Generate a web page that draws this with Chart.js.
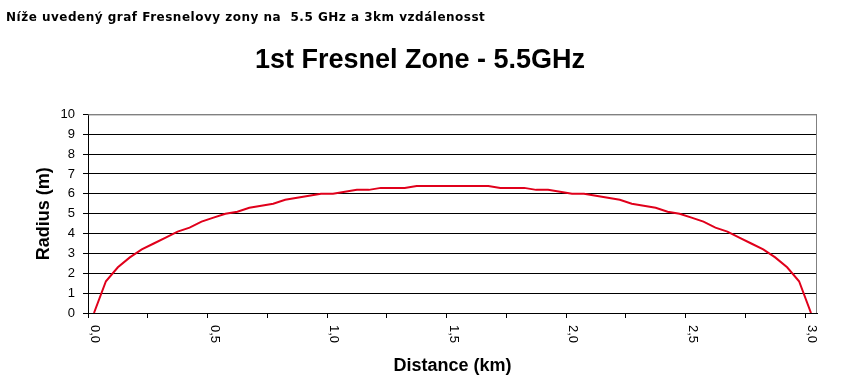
<!DOCTYPE html>
<html>
<head>
<meta charset="utf-8">
<title>1st Fresnel Zone - 5.5GHz</title>
<script src="https://cdn.jsdelivr.net/npm/chart.js@4/dist/chart.umd.min.js"></script>
<style>
  html, body { margin: 0; padding: 0; background: #fff; }
  #wrap { position: relative; width: 844px; height: 392px; overflow: hidden; }
  #note {
    position: absolute; left: 6px; top: 10px;
    font: bold 12px Verdana, "DejaVu Sans", sans-serif;
    letter-spacing: 0.5px;
    line-height: 14px; color: #000; white-space: pre;
  }
  #chart { position: absolute; left: 0; top: 0; }
</style>
</head>
<body>
<div id="wrap">
  <canvas id="chart" width="844" height="392"></canvas>
  <div id="note">Níže uvedený graf Fresnelovy zony na  5.5 GHz a 3km vzdálenosst</div>
</div>
<script>
/* ── data ── */

// distance along the path (km), one category every 50 m
const distances = [
  0.00, 0.05, 0.10, 0.15, 0.20, 0.25, 0.30, 0.35, 0.40, 0.45,
  0.50, 0.55, 0.60, 0.65, 0.70, 0.75, 0.80, 0.85, 0.90, 0.95,
  1.00, 1.05, 1.10, 1.15, 1.20, 1.25, 1.30, 1.35, 1.40, 1.45,
  1.50, 1.55, 1.60, 1.65, 1.70, 1.75, 1.80, 1.85, 1.90, 1.95,
  2.00, 2.05, 2.10, 2.15, 2.20, 2.25, 2.30, 2.35, 2.40, 2.45,
  2.50, 2.55, 2.60, 2.65, 2.70, 2.75, 2.80, 2.85, 2.90, 2.95,
  3.00
];

// radius of the 1st Fresnel zone (m)
const radius = [
  0.0, 1.6, 2.3, 2.8, 3.2, 3.5, 3.8, 4.1, 4.3, 4.6,
  4.8, 5.0, 5.1, 5.3, 5.4, 5.5, 5.7, 5.8, 5.9, 6.0,
  6.0, 6.1, 6.2, 6.2, 6.3, 6.3, 6.3, 6.4, 6.4, 6.4,
  6.4, 6.4, 6.4, 6.4, 6.3, 6.3, 6.3, 6.2, 6.2, 6.1,
  6.0, 6.0, 5.9, 5.8, 5.7, 5.5, 5.4, 5.3, 5.1, 5.0,
  4.8, 4.6, 4.3, 4.1, 3.8, 3.5, 3.2, 2.8, 2.3, 1.6,
  0.0
];

// labelled ticks on the distance axis
const xTickValues = [0.0, 0.5, 1.0, 1.5, 2.0, 2.5, 3.0];
const xTickLabels = ['0,0', '0,5', '1,0', '1,5', '2,0', '2,5', '3,0'];

// radius axis
const yMin = 0;
const yMax = 10;
const yStep = 1;

/* ── look ── */
const FONT = 'Arial, "Liberation Sans", sans-serif';
const LINE_RED = '#e0001b';

// x labels in the reference read top-to-bottom, so draw them ourselves
const xLabelsPlugin = {
  id: 'xLabels',
  afterDraw(chart) {
    const xs = chart.scales.x;
    const ctx = chart.ctx;
    ctx.save();
    ctx.fillStyle = '#000';
    ctx.font = '13px ' + FONT;
    ctx.textAlign = 'left';
    ctx.textBaseline = 'middle';
    xTickValues.forEach((v, i) => {
      const idx = distances.findIndex(d => Math.abs(d - v) < 1e-9);
      if (idx < 0) return;
      const px = xs.getPixelForValue(idx);
      ctx.save();
      ctx.translate(px + 1, xs.top + 12);
      ctx.rotate(Math.PI / 2);
      ctx.fillText(xTickLabels[i], 0, 0);
      ctx.restore();
    });
    ctx.restore();
  }
};

// grey frame on the top/right of the plot area
const framePlugin = {
  id: 'frame',
  beforeDatasetsDraw(chart) {
    const { ctx, chartArea: a } = chart;
    ctx.save();
    ctx.strokeStyle = '#808080';
    ctx.lineWidth = 1;
    ctx.beginPath();
    ctx.moveTo(a.left, a.top + 0.5);
    ctx.lineTo(Math.round(a.right) - 0.5, a.top + 0.5);
    ctx.lineTo(Math.round(a.right) - 0.5, a.bottom);
    ctx.stroke();
    ctx.restore();
  }
};

new Chart(document.getElementById('chart'), {
  type: 'line',
  data: {
    labels: distances.map(d => d.toFixed(2)),
    datasets: [{
      label: 'Radius (m)',
      data: radius,
      borderColor: LINE_RED,
      backgroundColor: LINE_RED,
      borderWidth: 2,
      pointRadius: 0,
      pointHoverRadius: 0,
      tension: 0,
      fill: false,
    }]
  },
  options: {
    responsive: false,
    animation: false,
    layout: { padding: { left: 0, right: 4, top: 0, bottom: 0 } },
    plugins: {
      legend: { display: false },
      tooltip: { enabled: false },
      title: {
        display: true,
        text: '1st Fresnel Zone - 5.5GHz',
        color: '#000',
        font: { family: FONT, size: 27, weight: 'bold', lineHeight: 1.2 },
        padding: { top: 44, bottom: 38 }
      }
    },
    scales: {
      x: {
        type: 'category',
        offset: true,
        afterFit: s => { s.height = 79; },
        border: { display: true, color: '#000', width: 1 },
        grid: {
          offset: true,
          drawOnChartArea: false,
          drawTicks: true,
          tickLength: 5,
          tickColor: c => (c.index % 5 === 0 ? '#000' : 'rgba(0,0,0,0)'),
          color: 'rgba(0,0,0,0)'
        },
        ticks: { display: false, autoSkip: false },
        title: {
          display: true,
          text: 'Distance (km)',
          color: '#000',
          font: { family: FONT, size: 18, weight: 'bold', lineHeight: 1.2 },
          padding: { top: 37, bottom: 15 }
        }
      },
      y: {
        min: yMin,
        max: yMax,
        afterFit: s => { s.width = 88; },
        border: { display: true, color: '#000', width: 1 },
        grid: {
          color: c => (c.tick && c.tick.value === yMax ? '#808080' : '#000'),
          lineWidth: 1,
          drawTicks: true,
          tickLength: 5,
          tickColor: '#000'
        },
        ticks: {
          stepSize: yStep,
          padding: 8,
          color: '#000',
          font: { family: FONT, size: 13 }
        },
        title: {
          display: true,
          text: 'Radius (m)',
          color: '#000',
          font: { family: FONT, size: 18, weight: 'bold', lineHeight: 1.2 },
          padding: { top: 33, bottom: 0 }
        }
      },
      // empty right-hand strip so the title centres like the reference
      spacer: {
        type: 'linear',
        position: 'right',
        display: true,
        afterFit: s => { s.width = 23; },
        border: { display: false },
        grid: { display: false },
        ticks: { display: false }
      }
    }
  },
  plugins: [framePlugin, xLabelsPlugin]
});
</script>
</body>
</html>
